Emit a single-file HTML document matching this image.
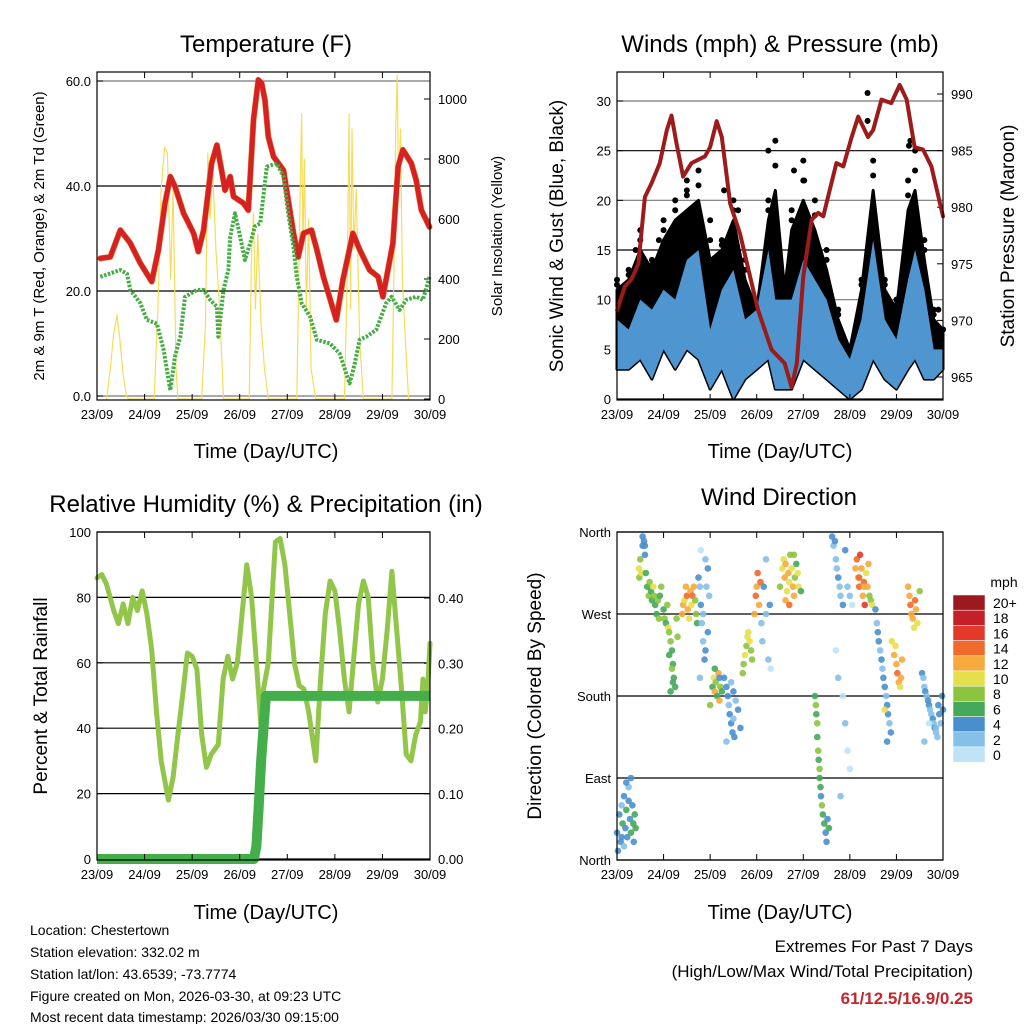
<!DOCTYPE html>
<html><head><meta charset="utf-8"><style>
body{margin:0;background:#fff}
svg{display:block;font-family:"Liberation Sans",sans-serif}
</style></head><body>
<svg id="s" width="1024" height="1024" viewBox="0 0 1024 1024" xmlns="http://www.w3.org/2000/svg">
<g id="g"></g>
<text x="266" y="52" font-size="24" text-anchor="middle">Temperature (F)</text>
<text x="780" y="52" font-size="24" text-anchor="middle">Winds (mph) &amp; Pressure (mb)</text>
<text x="266" y="512" font-size="24" text-anchor="middle">Relative Humidity (%) &amp; Precipitation (in)</text>
<text x="779" y="505" font-size="24" text-anchor="middle">Wind Direction</text>
<text x="266" y="458" font-size="20" text-anchor="middle">Time (Day/UTC)</text>
<text x="780" y="458" font-size="20" text-anchor="middle">Time (Day/UTC)</text>
<text x="266" y="919" font-size="20" text-anchor="middle">Time (Day/UTC)</text>
<text x="780" y="919" font-size="20" text-anchor="middle">Time (Day/UTC)</text>
<text transform="translate(44,236) rotate(-90)" font-size="15" text-anchor="middle">2m &amp; 9m T (Red, Orange) &amp; 2m Td (Green)</text>
<text transform="translate(502,236) rotate(-90)" font-size="15" text-anchor="middle">Solar Insolation (Yellow)</text>
<text transform="translate(563,236) rotate(-90)" font-size="19" text-anchor="middle">Sonic Wind &amp; Gust (Blue, Black)</text>
<text transform="translate(1014,236) rotate(-90)" font-size="19" text-anchor="middle">Station Pressure (Maroon)</text>
<text transform="translate(47,696) rotate(-90)" font-size="19" text-anchor="middle">Percent &amp; Total Rainfall</text>
<text transform="translate(541,696) rotate(-90)" font-size="19" text-anchor="middle">Direction (Colored By Speed)</text>
<g font-size="14">
<text x="30" y="935">Location: Chestertown</text>
<text x="30" y="957">Station elevation: 332.02 m</text>
<text x="30" y="979">Station lat/lon: 43.6539; -73.7774</text>
<text x="30" y="1001">Figure created on Mon, 2026-03-30, at 09:23 UTC</text>
<text x="30" y="1022">Most recent data timestamp: 2026/03/30 09:15:00</text>
</g>
<text x="973" y="952" font-size="17" text-anchor="end">Extremes For Past 7 Days</text>
<text x="973" y="977" font-size="17" text-anchor="end">(High/Low/Max Wind/Total Precipitation)</text>
<text x="973" y="1004" font-size="17" font-weight="bold" fill="#c0282d" text-anchor="end">61/12.5/16.9/0.25</text>
</svg>
<script>
const days=["23/09","24/09","25/09","26/09","27/09","28/09","29/09","30/09"];
const tempT=[0.07,0.28,0.49,0.70,0.91,1.15,1.29,1.43,1.54,1.64,1.82,2.03,2.13,2.24,2.41,2.52,2.62,2.69,2.80,2.87,3.08,3.18,3.29,3.39,3.46,3.53,3.60,3.71,3.92,4.13,4.23,4.34,4.51,4.62,4.76,5.03,5.17,5.38,5.52,5.73,5.91,6.01,6.22,6.33,6.43,6.61,6.71,6.82,6.99];
const tempV=[26.2,26.5,31.6,29.1,25.3,21.8,27.8,36.7,41.8,39.9,34.8,31.0,27.5,31.6,44.3,47.8,43.0,39.2,41.8,38.0,36.7,35.4,52.6,60.2,59.6,56.4,49.4,45.6,43.0,31.0,26.5,31.0,31.6,27.9,22.7,14.5,22.1,31.0,27.9,24.0,22.7,18.9,29.1,43.7,46.9,44.3,41.1,35.4,32.2];
const dewT=[0.07,0.49,0.63,0.70,0.91,1.05,1.26,1.40,1.54,1.64,1.75,1.85,2.10,2.24,2.38,2.52,2.55,2.66,2.76,2.80,2.90,3.01,3.11,3.22,3.32,3.43,3.57,3.78,3.92,4.02,4.13,4.20,4.30,4.48,4.62,4.90,5.10,5.31,5.42,5.52,5.66,5.87,6.08,6.19,6.36,6.50,6.71,6.85,6.99];
const dewV=[22.7,24.0,23.3,20.2,17.7,14.5,13.8,8.8,1.1,7.5,11.3,18.9,20.2,20.2,18.3,17.0,11.3,20.2,24.0,30.3,34.8,30.3,25.9,29.1,32.3,32.9,43.7,44.3,41.8,34.8,28.4,22.7,17.7,15.1,10.7,10.0,8.1,2.4,6.2,10.7,11.3,12.6,17.7,18.9,16.4,18.3,18.9,18.3,22.7];
const solarT=[0.2,0.28,0.35,0.42,0.48,0.55,0.62,0.66,1.2,1.28,1.35,1.42,1.48,1.55,1.6,1.66,1.7,2.2,2.28,2.33,2.38,2.43,2.5,2.58,2.66,3.2,3.25,3.29,3.33,3.38,3.45,3.52,3.6,4.2,4.26,4.3,4.33,4.36,4.4,4.45,4.5,4.6,5.2,5.26,5.3,5.33,5.36,5.4,5.45,5.52,5.6,6.2,6.25,6.28,6.31,6.34,6.38,6.42,6.48,6.55];
const solarV=[0,100,220,280,200,80,10,0,0,300,700,840,820,400,700,100,0,0,250,820,600,780,500,300,0,0,500,620,300,550,250,100,0,0,600,950,500,800,300,600,100,0,0,400,950,300,900,500,700,200,0,0,500,900,1080,700,900,400,200,0];
const presT=[0,0.17,0.31,0.46,0.60,0.74,0.92,1.07,1.17,1.28,1.42,1.60,1.89,2.0,2.14,2.25,2.43,2.64,2.89,3.03,3.32,3.60,3.75,3.86,4.0,4.18,4.32,4.43,4.53,4.71,4.86,5.04,5.18,5.39,5.50,5.68,5.89,6.07,6.22,6.39,6.57,6.75,7.0];
const presV=[970.9,973.0,973.6,975.0,980.9,982.1,983.9,986.8,988.1,985.6,982.7,983.9,984.5,985.3,987.6,986.2,980.3,977.7,973.3,970.9,967.4,966.2,964.1,966.2,973.9,978.9,979.5,979.2,980.9,983.9,983.6,986.2,988.0,986.2,986.8,989.5,989.2,990.8,989.5,985.3,985.1,983.6,979.2];
const windT=[0,0.25,0.5,0.75,1.0,1.25,1.5,1.75,2.0,2.25,2.5,2.75,3.0,3.25,3.4,3.6,3.75,4.0,4.25,4.5,4.75,5.0,5.25,5.5,5.75,6.0,6.25,6.4,6.6,6.8,7.0];
const gustHi=[12,13,17,14,18,20,22,23,18,16,20,14,10,20,26,12,19,24,20,15,9,5,12,24,12,10,22,25,16,9,7];
const gustDense=[11,12,15,13,16,18,19,20,14,15,18,12,9,18,21,11,17,20,17,13,8,5,11,21,11,9,19,21,14,8,7];
const windHi=[8,7,10,9,11,10,14,15,7,11,13,8,9,15,10,10,10,14,12,10,6,4,8,16,8,6,12,15,11,5,5];
const windLo=[3,3,4,2,5,3,5,4,1,3,0,2,3,4,1,1,1,4,3,2,1,0,1,4,2,1,3,4,2,2,3];
const gustOutT=[5.38,5.38,6.27,3.25,4.02,6.3,1.5,2.3,1.8,2.6,3.8,0.4,0.9,6.9];
const gustOutV=[30.8,28,25.5,25,22,26,21,21,16,19,23,15,16,9];
const rhT=[0,0.1,0.2,0.35,0.45,0.55,0.65,0.75,0.85,0.95,1.05,1.15,1.25,1.35,1.45,1.5,1.6,1.7,1.8,1.9,2.0,2.1,2.2,2.3,2.4,2.55,2.65,2.75,2.85,2.95,3.05,3.15,3.25,3.35,3.45,3.5,3.6,3.68,3.75,3.85,3.95,4.05,4.15,4.25,4.35,4.45,4.6,4.7,4.8,4.9,5.0,5.1,5.2,5.3,5.4,5.5,5.6,5.7,5.8,5.9,6.0,6.1,6.2,6.3,6.4,6.5,6.6,6.7,6.8,6.85,6.9,6.95,7.0];
const rhV=[86,87,84,76,72,78,72,80,76,82,75,64,45,30,22,18,25,38,50,63,62,58,38,28,32,35,55,62,55,60,75,90,80,60,40,52,60,80,97,98,90,75,60,53,52,45,30,55,75,85,82,70,55,45,62,78,85,80,60,48,55,70,88,70,52,32,30,38,42,55,45,52,66];
const rainT=[0,3.3,3.35,3.4,3.45,3.5,3.55,7.0];
const rainV=[0,0,0.02,0.08,0.15,0.2,0.25,0.25];
const dirT=[
0.0,0.05,0.08,0.1,0.12,0.15,0.18,0.2,0.22,0.25,0.28,0.3,0.33,0.36,0.38,0.02,0.15,0.3,0.35,0.2,0.1,0.25,0.4,
0.47,0.48,0.5,0.52,0.55,0.58,0.6,0.62,0.65,0.68,0.7,0.73,0.75,0.78,0.8,0.82,0.85,0.88,0.9,0.55,0.6,
0.92,0.95,1.0,1.02,1.05,1.08,1.1,1.12,1.15,1.18,1.2,1.22,1.25,1.28,1.3,1.12,1.15,1.18,1.2,
1.4,1.42,1.45,1.48,1.5,1.52,1.55,1.58,1.6,1.62,1.65,1.68,1.7,1.72,
1.75,1.78,1.8,1.82,1.85,1.88,1.9,1.92,1.95,1.98,1.8,1.85,1.9,1.78,1.95,
2.05,2.08,2.1,2.12,2.15,2.18,2.2,2.22,2.25,2.1,2.2,2.0,
2.3,2.35,2.38,2.4,2.42,2.45,2.48,2.5,2.52,2.55,2.6,2.65,2.35,2.45,2.5,
2.7,2.72,2.75,2.78,2.8,2.82,2.85,2.88,2.9,2.95,2.98,3.0,3.02,3.05,3.08,
3.1,3.12,3.15,3.2,3.25,3.28,3.2,3.3,
3.5,3.55,3.58,3.6,3.62,3.65,3.68,3.7,3.72,3.75,3.78,3.8,3.82,3.85,3.88,3.9,3.95,3.62,3.7,3.8,
4.25,4.27,4.28,4.3,4.3,4.32,4.33,4.35,4.35,4.37,4.38,4.4,4.42,4.45,4.48,4.5,4.52,4.55,
4.62,4.65,4.68,4.7,4.72,4.75,4.78,4.8,4.85,4.9,4.95,5.0,5.05,4.7,4.75,4.85,4.9,4.95,5.0,4.8,
5.12,5.15,5.18,5.2,5.22,5.25,5.28,5.3,5.32,5.35,5.38,5.4,5.42,5.45,5.48,5.2,5.3,
5.55,5.58,5.6,5.62,5.65,5.68,5.7,5.72,5.75,5.78,5.8,5.82,5.85,5.88,5.75,5.8,
5.9,5.95,6.0,6.02,6.05,6.08,6.1,6.12,5.98,
6.25,6.28,6.3,6.32,6.35,6.38,6.4,6.42,6.45,6.5,
6.55,6.58,6.6,6.62,6.65,6.68,6.7,6.72,6.75,6.78,6.8,6.82,6.85,6.88,6.9,6.92,6.95,6.98,7.0,6.6,6.7,6.85];
const dirD=[
30,50,20,60,40,70,35,55,25,80,45,30,60,20,50,10,15,90,40,85,25,65,35,
320,310,330,315,345,350,335,315,300,290,305,295,285,300,290,280,270,285,265,355,345,
290,300,275,265,260,280,255,250,240,230,215,200,190,265,245,225,185,210,195,
270,280,285,300,290,275,265,295,280,290,300,285,270,260,
310,300,280,260,240,220,330,300,250,290,340,270,230,200,320,
190,200,185,195,180,205,175,190,185,210,200,170,
200,190,180,170,160,150,140,155,135,175,165,145,130,195,185,
205,215,225,235,245,250,240,230,220,270,290,300,315,280,305,
260,240,300,270,220,280,330,210,
300,320,330,310,325,295,315,305,335,320,300,290,310,325,315,300,295,285,280,335,
180,170,160,150,135,120,110,100,90,80,70,60,50,40,30,20,45,35,
355,345,350,330,320,310,300,290,280,340,300,290,280,230,200,180,150,120,100,70,
320,330,310,300,335,320,290,305,280,315,300,325,290,285,280,310,300,
275,260,250,240,230,220,210,200,190,180,170,160,150,140,165,130,
240,225,215,205,195,190,200,220,235,
300,290,280,270,265,255,285,275,260,295,
205,200,190,185,180,175,170,165,160,155,150,145,140,135,170,160,150,180,165,130,150,145];
const dirS=[
4,4,5,3,6,4,5,6,4,3,5,6,4,5,6,4,3,4,6,4,5,4,6,
10,9,8,10,4,4,5,7,6,8,9,6,7,10,8,7,6,8,8,4,5,
7,8,6,9,7,8,10,9,8,7,6,7,6,8,9,6,7,8,6,
12,13,11,12,14,13,10,12,11,14,12,9,8,7,
4,3,4,2,3,4,2,3,4,2,1,3,4,2,5,
7,10,12,8,6,13,12,9,7,6,5,8,
4,4,5,3,4,5,4,3,4,2,4,5,3,2,4,
8,9,10,9,10,11,10,8,9,12,14,13,14,12,15,
3,2,4,3,2,4,3,1,
9,10,11,12,13,10,12,11,9,10,12,13,8,7,10,11,6,12,14,8,
7,8,6,8,7,9,6,8,7,6,5,8,7,6,4,4,5,6,
4,3,4,3,2,4,3,2,5,4,3,2,1,1,2,1,2,1,1,2,
13,14,12,15,16,13,12,14,17,11,12,13,8,9,10,14,12,
4,3,5,4,3,4,2,4,5,3,4,5,3,4,11,5,
11,12,13,14,12,11,13,12,10,
12,13,14,12,13,11,14,12,10,9,
4,3,2,4,3,4,5,3,2,4,3,4,2,3,4,5,3,4,4,2,1,3];
const cbLabels=["20+","18","16","14","12","10","8","6","4","2","0"];
const cbColors=["#9b1a1e","#c51f28","#e2392b","#ef6a2b","#f6a93c","#e6df4d","#8cc43f","#46a85a","#4a8fcd","#85c0e8","#bfe3f7"];

const NS="http://www.w3.org/2000/svg";
const G=document.getElementById('g');
function mk(tag,attrs,parent){const e=document.createElementNS(NS,tag);for(const k in attrs)e.setAttribute(k,attrs[k]);(parent||G).appendChild(e);return e;}
function txt(x,y,s,anchor,size,parent){const t=mk('text',{x:x,y:y,'font-size':size||13,'text-anchor':anchor||'middle'},parent);t.textContent=s;return t;}
function speedColor(s){const i=Math.min(10,Math.max(0,Math.floor(s/2)));return cbColors[10-i];}

function panel(P){
  const g=mk('g',{});
  
  
  P.g=g;
  P.X=d=>P.x0+(P.x1-P.x0)*d/7;
  P.Y=v=>P.yb+(P.yt-P.yb)*(v-P.lmin)/(P.lmax-P.lmin);
  return P;
}
function frame(P){
  const g=P.g;
  const r=mk('rect',{x:P.x0,y:P.top,width:P.x1-P.x0,height:P.bot-P.top,fill:'none',stroke:'#000','stroke-width':1.2},g);
  
  
  days.forEach((d,i)=>{const x=P.X(i);
    mk('line',{x1:x,x2:x,y1:P.bot,y2:P.bot-6,stroke:'#000'},g);
    mk('line',{x1:x,x2:x,y1:P.top,y2:P.top+6,stroke:'#000'},g);
    const t=txt(x,P.bot+19,d,'middle',13,g);
    
    
  });
}
function grid(P,vals,labels,gray){
  vals.forEach((v,i)=>{const y=P.Y(v);
    mk('line',{x1:P.x0,x2:P.x1,y1:y,y2:y,stroke:(gray&&gray[i])?'#777':'#000','stroke-width':1.2},P.g);
    mk('line',{x1:P.x0,x2:P.x0+6,y1:y,y2:y,stroke:'#000'},P.g);
    if(labels){const t=txt(P.x0-6,y+5,labels[i],'end',13,P.g);
      
      }
  });
}
function rightAxis(P,min,max,pyMin,pyMax,vals,labels){
  const Yr=v=>pyMin+(pyMax-pyMin)*(v-min)/(max-min);
  vals.forEach((v,i)=>{const y=Yr(v);
    mk('line',{x1:P.x1,x2:P.x1-6,y1:y,y2:y,stroke:'#000'},P.g);
    const t=txt(P.x1+8,y+5,labels[i],'start',13,P.g);
    
    
  });
  return Yr;
}
function path(P,T,V,Yf,attrs){
  let d='';T.forEach((t,i)=>{d+=(i?'L':'M')+P.X(t).toFixed(1)+','+Yf(V[i]).toFixed(1);});
  const a=Object.assign({d:d,fill:'none','stroke-linejoin':'round','stroke-linecap':'round'},attrs);
  return mk('path',a,P.g);
}

// Panel 1: temperature
const P1=panel({name:'temperature-panel',x0:97,x1:430,top:72,bot:400,yb:396,yt:81,lmin:0,lmax:60});
const Ys=rightAxis(P1,0,1000,399,99,[0,200,400,600,800,1000],["0","200","400","600","800","1000"]);
grid(P1,[0,20,40,60],["0.0","20.0","40.0","60.0"],[1,0,0,1]);
let e=path(P1,solarT,solarV,v=>Math.max(72,Ys(v)),{stroke:'#f7dc5a','stroke-width':1.2});


e=path(P1,tempT,tempV,P1.Y,{stroke:'#f08030','stroke-width':6});


e=path(P1,tempT,tempV,P1.Y,{stroke:'#d42224','stroke-width':5});


e=path(P1,dewT,dewV,P1.Y,{stroke:'#44ac44','stroke-width':4,'stroke-dasharray':'2.5 1.5','stroke-linecap':'butt'});


frame(P1);

// Panel 2: winds
const P2=panel({name:'winds-panel',x0:617,x1:943,top:72,bot:400,yb:399,yt:101,lmin:0,lmax:30});
grid(P2,[0,5,10,15,20,25,30],["0","5","10","15","20","25","30"],[0,0,1,0,1,0,1]);
const Yp=rightAxis(P2,965,990,377,94,[965,970,975,980,985,990],["965","970","975","980","985","990"]);
let dg='';windT.forEach((t,i)=>{dg+=(i?'L':'M')+P2.X(t)+','+P2.Y(gustDense[i]);});
for(let i=windT.length-1;i>=0;i--)dg+='L'+P2.X(windT[i])+','+P2.Y(windLo[i]);
e=mk('path',{d:dg+'Z',fill:'#000',stroke:'#000','stroke-width':3,'stroke-linejoin':'round'},P2.g);


windT.forEach((t,i)=>{
  const c=mk('circle',{cx:P2.X(t),cy:P2.Y(gustHi[i]),r:3,fill:'#000'},P2.g);
  
  
  const c2=mk('circle',{cx:P2.X(t),cy:P2.Y((gustHi[i]+gustDense[i])/2),r:3,fill:'#000'},P2.g);
  
  
});
gustOutT.forEach((t,i)=>{
  const c=mk('circle',{cx:P2.X(t),cy:P2.Y(gustOutV[i]),r:3,fill:'#000'},P2.g);
  
  
});
let dw='';windT.forEach((t,i)=>{dw+=(i?'L':'M')+P2.X(t)+','+P2.Y(windHi[i]);});
for(let i=windT.length-1;i>=0;i--)dw+='L'+P2.X(windT[i])+','+P2.Y(windLo[i]);
e=mk('path',{d:dw+'Z',fill:'#4f95d0'},P2.g);


e=path(P2,presT,presV,Yp,{stroke:'#9c1b1b','stroke-width':4});


frame(P2);

// Panel 3: RH
const P3=panel({name:'humidity-panel',x0:97,x1:430,top:532,bot:860,yb:859,yt:532,lmin:0,lmax:100});
grid(P3,[0,20,40,60,80,100],["0","20","40","60","80","100"]);
const Yr=rightAxis(P3,0,0.4,859,598,[0,0.1,0.2,0.3,0.4],["0.00","0.10","0.20","0.30","0.40"]);
e=path(P3,rhT,rhV,P3.Y,{stroke:'#92c64a','stroke-width':5});


e=path(P3,rainT,rainV,Yr,{stroke:'#44ae4a','stroke-width':10,'stroke-linecap':'butt'});


frame(P3);

// Panel 4: wind direction
const P4=panel({name:'wind-direction-panel',x0:617,x1:943,top:532,bot:860,yb:860,yt:532,lmin:0,lmax:360});
grid(P4,[0,90,180,270,360],["North","East","South","West","North"]);
dirT.forEach((t,i)=>{
  if(dirD[i]===undefined||dirS[i]===undefined)return;
  const c=mk('circle',{cx:P4.X(t),cy:P4.Y(dirD[i]),r:3.3,fill:speedColor(dirS[i]),'fill-opacity':0.9},P4.g);
  
  
});
frame(P4);

// colorbar
const cb=mk('g',{});


txt(1004,587,'mph','middle',14,cb);
cbLabels.forEach((l,i)=>{
  const y=595+i*15.2;
  mk('rect',{x:953,y:y,width:32,height:15.2,fill:cbColors[i],stroke:'#fff','stroke-width':0.5},cb);
  const t=txt(993,y+13,l,'start',14,cb);
  
  
});
</script>
</body></html>
